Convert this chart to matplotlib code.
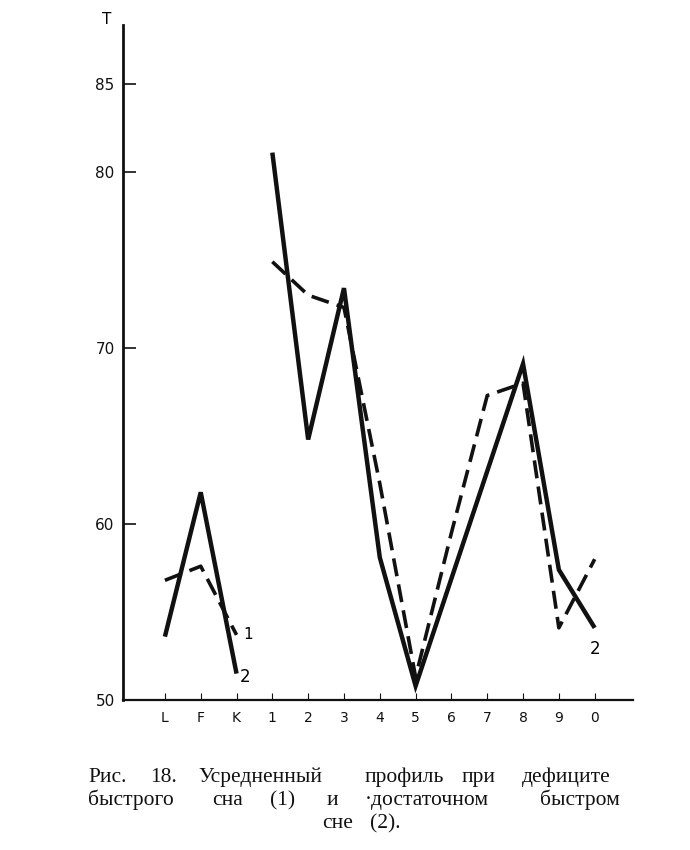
import matplotlib
matplotlib.use("Agg")
import matplotlib.pyplot as plt
import numpy as np

categories = ["L", "F", "K", "1", "2", "3", "4", "5", "6", "7", "8", "9", "0"]
# series 1 (dashed): REM deficit; series 2 (solid): sufficient REM
s1_left = [56.8, 57.6, 53.7]
s1_right = [74.9, 73.0, 72.3, 62.3, 51.3, 59.5, 67.3, 68.0, 54.1, 58.0]
s2_left = [53.6, 61.8, 51.5]
s2_right = [81.1, 64.8, 73.4, 58.1, 50.8, 56.9, 63.0, 69.1, 57.4, 54.1]
yticks = [50, 60, 70, 80, 85]

W, H = 690, 850
fig = plt.figure(figsize=(W / 100, H / 100), dpi=100)
ax = fig.add_axes([123 / W, 1 - 700 / H, (633 - 123) / W, (700 - 25) / H])

xl = np.arange(3)
xr = np.arange(3, 13)
ink = "#111111"
ax.plot(xl, s2_left, color=ink, lw=3.2, solid_capstyle="butt", solid_joinstyle="miter")
ax.plot(xr, s2_right, color=ink, lw=3.2, solid_capstyle="butt", solid_joinstyle="miter")
ax.plot(xl, s1_left, color=ink, lw=2.6, dashes=(5, 2.3))
ax.plot(xr, s1_right, color=ink, lw=2.6, dashes=(5, 2.3))

ax.set_xlim(-1.17, 13.07)
ax.set_ylim(50, 88.35)
ax.set_xticks(range(len(categories)))
ax.set_xticklabels(categories, fontsize=10, family="DejaVu Sans")
ax.set_yticks(yticks)
ax.set_yticklabels([str(t) for t in yticks], fontsize=11, family="DejaVu Sans")
ax.tick_params(axis="y", direction="in", length=9, width=1.2, pad=6, colors=ink)
ax.tick_params(axis="x", direction="in", length=5, width=0.8, pad=8, colors=ink)
for s in ("top", "right"):
    ax.spines[s].set_visible(False)
ax.spines["left"].set_linewidth(2.0)
ax.spines["bottom"].set_linewidth(1.6)
ax.spines["left"].set_color(ink)
ax.spines["bottom"].set_color(ink)

# series labels
ax.text(2.2, s1_left[-1], "1", fontsize=11, ha="left", va="center")
ax.text(2.1, 51.3, "2", fontsize=12, ha="left", va="center")
ax.text(12.0, 52.9, "2", fontsize=12, ha="center", va="center")

fig.text(107 / W, 1 - 20 / H, "T", fontsize=11, ha="center", va="center")

# caption (justified word placement)
cap_font = dict(family="Liberation Serif", fontsize=15.5, color="#111111", va="baseline")
line1 = [("Рис.", 88), ("18.", 150), ("Усредненный", 198), ("профиль", 365), ("при", 462), ("дефиците", 522)]
line2 = [("быстрого", 88), ("сна", 212), ("(1)", 270), ("и", 327), ("·достаточном", 365), ("быстром", 540)]
line3 = [("сне", 322), ("(2).", 370)]
for words, yb in ((line1, 782), (line2, 805), (line3, 828)):
    for w, xp in words:
        fig.text(xp / W, 1 - yb / H, w, ha="left", **cap_font)

fig.savefig("out.png", dpi=100, facecolor="white")
